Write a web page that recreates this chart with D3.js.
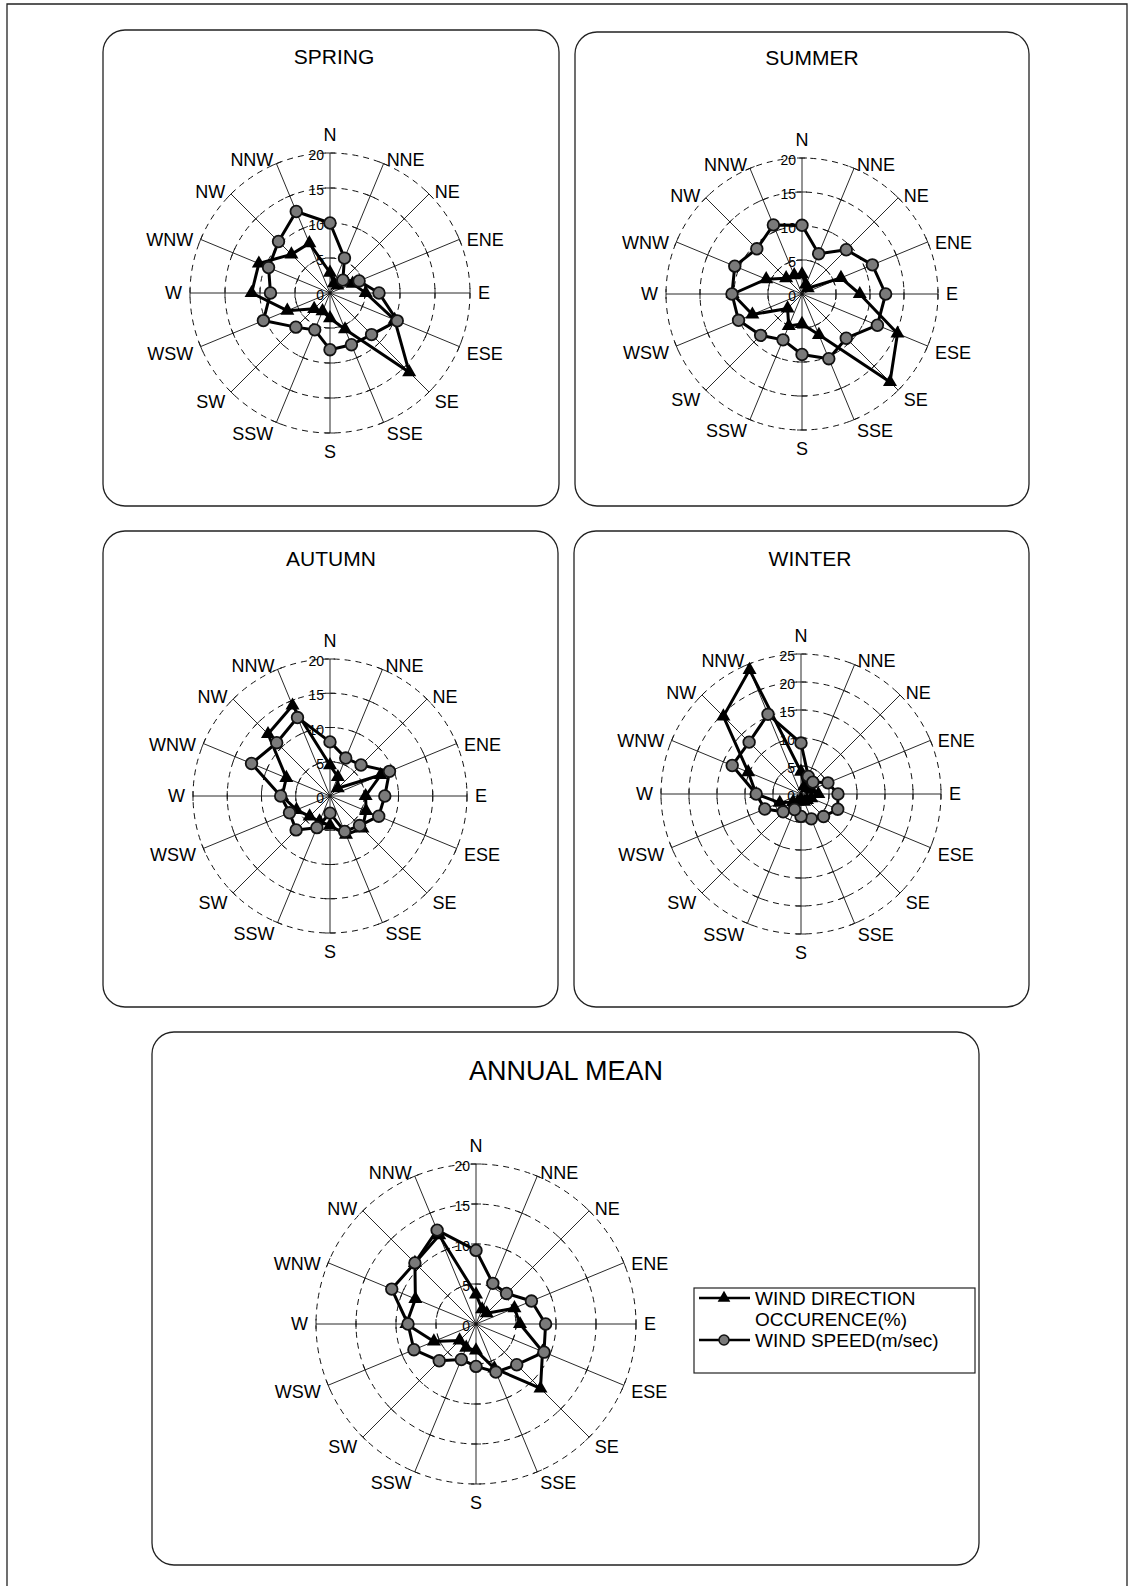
<!DOCTYPE html>
<html>
<head>
<meta charset="utf-8">
<script src="https://cdn.jsdelivr.net/npm/d3@7"></script>
<style>
  body { margin: 0; background: #fff; }
  svg { display: block; font-family: "Liberation Sans", Arial, sans-serif; }
</style>
</head>
<body>
<svg id="chart" width="1130" height="1586"></svg>
<script>
// 16 compass points, clockwise from north
const directions = ["N", "NNE", "NE", "ENE", "E", "ESE", "SE", "SSE",
                    "S", "SSW", "SW", "WSW", "W", "WNW", "NW", "NNW"];

// wind speed (m/sec) and wind direction occurence (%) per season
const springSpeed  = [10.0, 5.4, 2.6, 4.5, 7.0, 10.4, 8.4, 8.0, 8.1, 5.7, 6.9, 10.3, 8.5, 9.5, 10.4, 12.6];
const springOccur  = [2.9, 1.5, 1.5, 3.5, 5.1, 10.0, 16.0, 5.6, 3.6, 2.8, 3.2, 6.6, 11.2, 11.0, 7.8, 7.7];
const summerSpeed  = [10.1, 6.4, 9.2, 11.2, 12.3, 12.0, 9.2, 10.3, 8.9, 7.3, 8.6, 10.1, 10.3, 10.7, 9.4, 11.0];
const summerOccur  = [2.9, 1.5, 1.2, 6.2, 8.5, 15.2, 18.3, 6.5, 4.4, 5.1, 3.0, 7.9, 10.2, 5.7, 3.3, 3.0];
const autumnSpeed  = [7.9, 6.0, 6.4, 9.4, 8.0, 7.7, 6.1, 5.6, 2.5, 5.0, 7.0, 6.4, 7.2, 12.4, 11.0, 12.4];
const autumnOccur  = [4.5, 3.0, 1.6, 8.0, 5.2, 5.7, 6.7, 6.1, 4.3, 4.0, 4.2, 5.3, 7.0, 6.9, 12.8, 14.3];
const winterSpeed  = [9.1, 3.4, 3.0, 5.2, 6.6, 7.1, 5.7, 4.8, 4.0, 3.0, 4.5, 7.0, 8.0, 13.3, 13.1, 15.4];
const winterOccur  = [4.0, 1.5, 1.5, 2.0, 3.1, 2.0, 1.5, 1.5, 1.0, 1.5, 2.0, 4.1, 8.0, 10.2, 19.6, 24.0];
const annualSpeed  = [9.2, 5.5, 5.4, 7.5, 8.7, 9.2, 7.2, 6.5, 5.3, 4.8, 6.5, 8.4, 8.5, 11.4, 10.8, 12.7];
const annualOccur  = [3.7, 2.0, 1.9, 5.2, 5.5, 9.0, 11.4, 6.0, 3.3, 3.2, 2.9, 5.7, 8.7, 8.2, 10.8, 12.0];

const legendLabels = ["WIND DIRECTION", "OCCURENCE(%)", "WIND SPEED(m/sec)"];

const panels = [
  { title: "SPRING", x: 103, y: 30,  w: 456, h: 476, tx: 334, ty: 56,  cx: 330, cy: 293,  R: 140, max: 20, speed: springSpeed, occur: springOccur },
  { title: "SUMMER", x: 575, y: 32,  w: 454, h: 474, tx: 812, ty: 57,  cx: 802, cy: 294,  R: 136, max: 20, speed: summerSpeed, occur: summerOccur },
  { title: "AUTUMN", x: 103, y: 531, w: 455, h: 476, tx: 331, ty: 558, cx: 330, cy: 796,  R: 137, max: 20, speed: autumnSpeed, occur: autumnOccur },
  { title: "WINTER", x: 574, y: 531, w: 455, h: 476, tx: 810, ty: 558, cx: 801, cy: 794,  R: 140, max: 25, speed: winterSpeed, occur: winterOccur },
  { title: "ANNUAL MEAN", x: 152, y: 1032, w: 827, h: 533, tx: 566, ty: 1071, cx: 476, cy: 1324, R: 160, max: 20, speed: annualSpeed, occur: annualOccur, big: true }
];

const svg = d3.select("#chart");

// page frame (open at the bottom, as scanned)
svg.append("path")
  .attr("d", "M7,1586V4H1127V1586")
  .attr("fill", "none")
  .attr("stroke", "#222")
  .attr("stroke-width", 1.3);

const angle = d3.scaleLinear().domain([0, directions.length]).range([0, 2 * Math.PI]);

const drawRadar = (p) => {
  const g = svg.append("g");

  g.append("rect")
    .attr("x", p.x).attr("y", p.y)
    .attr("width", p.w).attr("height", p.h)
    .attr("rx", 22)
    .attr("fill", "none")
    .attr("stroke", "#222")
    .attr("stroke-width", 1.3);

  g.append("text")
    .attr("x", p.tx).attr("y", p.ty)
    .attr("text-anchor", "middle")
    .attr("dominant-baseline", "central")
    .attr("font-size", p.big ? 27 : 21)
    .text(p.title);

  const r = d3.scaleLinear().domain([0, p.max]).range([0, p.R]);
  const ticks = d3.range(0, p.max + 1, 5);

  const c = g.append("g").attr("transform", `translate(${p.cx},${p.cy})`);

  // dashed rings
  c.selectAll("circle.ring")
    .data(ticks.filter(t => t > 0))
    .enter().append("circle")
    .attr("class", "ring")
    .attr("r", d => r(d))
    .attr("fill", "none")
    .attr("stroke", "#111")
    .attr("stroke-width", 1)
    .attr("stroke-dasharray", "6,5");

  // spokes
  c.selectAll("line.spoke")
    .data(directions)
    .enter().append("line")
    .attr("class", "spoke")
    .attr("x1", 0).attr("y1", 0)
    .attr("x2", (d, i) => d3.pointRadial(angle(i), p.R)[0])
    .attr("y2", (d, i) => d3.pointRadial(angle(i), p.R)[1])
    .attr("stroke", "#111")
    .attr("stroke-width", 0.9);

  // cross ticks where spokes meet the rings
  const tickMarks = [];
  directions.forEach((d, i) => ticks.filter(t => t > 0).forEach(t => tickMarks.push({ i, t })));
  c.selectAll("line.tick")
    .data(tickMarks)
    .enter().append("line")
    .attr("class", "tick")
    .each(function (d) {
      const a = angle(d.i);
      const [px, py] = d3.pointRadial(a, r(d.t));
      const ux = Math.cos(a) * 5, uy = Math.sin(a) * 5;
      d3.select(this)
        .attr("x1", px - ux).attr("y1", py - uy)
        .attr("x2", px + ux).attr("y2", py + uy);
    })
    .attr("stroke", "#111")
    .attr("stroke-width", 0.9);

  // value labels along the north axis
  c.selectAll("text.val")
    .data(ticks)
    .enter().append("text")
    .attr("class", "val")
    .attr("x", -6)
    .attr("y", d => -r(d) + 2)
    .attr("text-anchor", "end")
    .attr("dominant-baseline", "central")
    .attr("font-size", 14)
    .text(d => d);

  // compass labels
  c.selectAll("text.dir")
    .data(directions)
    .enter().append("text")
    .attr("class", "dir")
    .each(function (d, i) {
      const a = angle(i);
      const s = Math.sin(a), co = Math.cos(a);
      const [px, py] = d3.pointRadial(a, p.R + 8);
      let anchor = "middle", dy = 4;
      if (Math.abs(s) < 0.01) dy = co > 0 ? -10 : 11;
      else {
        anchor = s > 0 ? "start" : "end";
        if (Math.abs(co) < 0.01) dy = 0;
      }
      d3.select(this)
        .attr("x", px).attr("y", py + dy)
        .attr("text-anchor", anchor);
    })
    .attr("dominant-baseline", "central")
    .attr("font-size", 18)
    .text(d => d);

  // wind direction occurence: thick line with triangles
  const radial = d3.lineRadial()
    .angle((d, i) => angle(i))
    .radius(d => r(d))
    .curve(d3.curveLinearClosed);

  c.append("path")
    .datum(p.occur)
    .attr("d", radial)
    .attr("fill", "none")
    .attr("stroke", "#000")
    .attr("stroke-width", 3)
    .attr("stroke-linejoin", "round");

  c.selectAll("path.tri")
    .data(p.occur)
    .enter().append("path")
    .attr("class", "tri")
    .attr("d", d3.symbol().type(d3.symbolTriangle).size(85))
    .attr("transform", (d, i) => {
      const [x, y] = d3.pointRadial(angle(i), r(d));
      return `translate(${x},${y})`;
    })
    .attr("fill", "#000");

  // wind speed: thick line with grey circles
  c.append("path")
    .datum(p.speed)
    .attr("d", radial)
    .attr("fill", "none")
    .attr("stroke", "#000")
    .attr("stroke-width", 3)
    .attr("stroke-linejoin", "round");

  c.selectAll("circle.spd")
    .data(p.speed)
    .enter().append("circle")
    .attr("class", "spd")
    .attr("cx", (d, i) => d3.pointRadial(angle(i), r(d))[0])
    .attr("cy", (d, i) => d3.pointRadial(angle(i), r(d))[1])
    .attr("r", 5.8)
    .attr("fill", "#7a7a7a")
    .attr("stroke", "#111")
    .attr("stroke-width", 1.8);
};

panels.forEach(drawRadar);

// legend of the annual panel
const lg = svg.append("g").attr("transform", "translate(694,1288)");
lg.append("rect")
  .attr("width", 281).attr("height", 85)
  .attr("fill", "#fff")
  .attr("stroke", "#222")
  .attr("stroke-width", 1.2);

const rows = [{ y: 10, type: "tri" }, { y: 52, type: "circ" }];
rows.forEach(row => {
  lg.append("line")
    .attr("x1", 5).attr("x2", 56)
    .attr("y1", row.y).attr("y2", row.y)
    .attr("stroke", "#000").attr("stroke-width", 2.4);
  if (row.type === "tri") {
    lg.append("path")
      .attr("d", d3.symbol().type(d3.symbolTriangle).size(70))
      .attr("transform", `translate(30,${row.y})`)
      .attr("fill", "#000");
  } else {
    lg.append("circle")
      .attr("cx", 30).attr("cy", row.y).attr("r", 5)
      .attr("fill", "#7a7a7a").attr("stroke", "#111").attr("stroke-width", 1.5);
  }
});

lg.selectAll("text")
  .data(legendLabels)
  .enter().append("text")
  .attr("x", 61)
  .attr("y", (d, i) => [10, 31, 52][i])
  .attr("dominant-baseline", "central")
  .attr("font-size", 19)
  .text(d => d);
</script>
</body>
</html>
